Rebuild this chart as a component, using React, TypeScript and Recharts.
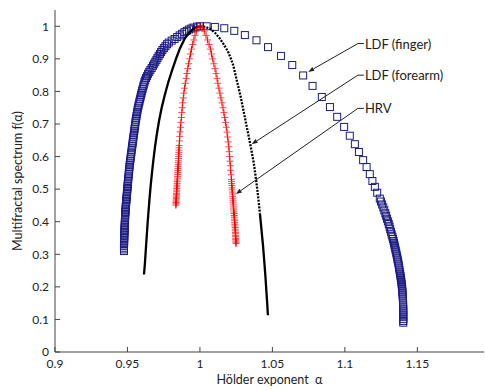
import { ScatterChart, Scatter, XAxis, YAxis, ReferenceLine, Label } from "recharts";

// LDF (finger): left branch bottom -> peak -> right branch bottom
const fingerAlpha = [
  0.9476, 0.9476, 0.9476, 0.9476, 0.9476, 0.9477, 0.9477, 0.9477, 0.9477, 0.9478, 0.9478, 0.9479,
  0.9479, 0.948, 0.948, 0.9481, 0.9481, 0.9482, 0.9482, 0.9483, 0.9483, 0.9484, 0.9484, 0.9485,
  0.9486, 0.9487, 0.9487, 0.9488, 0.9489, 0.949, 0.9491, 0.9492, 0.9493, 0.9494, 0.9495, 0.9496,
  0.9497, 0.9498, 0.9499, 0.95, 0.9501, 0.9502, 0.9503, 0.9504, 0.9505, 0.9506, 0.9508, 0.9509,
  0.9511, 0.9512, 0.9514, 0.9515, 0.9517, 0.9519, 0.9521, 0.9523, 0.9525, 0.9527, 0.9529, 0.9531,
  0.9533, 0.9535, 0.9537, 0.9539, 0.9541, 0.9543, 0.9545, 0.9547, 0.9549, 0.9551, 0.9553, 0.9555,
  0.9557, 0.956, 0.9562, 0.9565, 0.9567, 0.957, 0.9573, 0.9576, 0.9579, 0.9583, 0.9586, 0.959,
  0.9593, 0.9597, 0.9601, 0.9605, 0.9609, 0.9613, 0.9617, 0.9622, 0.9628, 0.9635, 0.9642, 0.965,
  0.9658, 0.9667, 0.9676, 0.9684, 0.9692, 0.97, 0.9707, 0.9715, 0.9724, 0.9732, 0.9741, 0.9751,
  0.9762, 0.9773, 0.9785, 0.9805, 0.9825, 0.9843, 0.986, 0.9877, 0.9893, 0.9909, 0.9925, 0.994,
  0.9955, 0.998, 1.0,
  1.0046, 1.0103, 1.0168, 1.0237, 1.031, 1.039, 1.047, 1.0559, 1.0637, 1.0712, 1.0777, 1.0841,
  1.0897, 1.0947, 1.0995, 1.1034, 1.1069, 1.1097, 1.1126, 1.115, 1.1172, 1.119, 1.1207, 1.1223,
  1.1241, 1.1249, 1.1257, 1.1265, 1.1272, 1.1279, 1.1285, 1.1291, 1.1297, 1.1303, 1.1308, 1.1313,
  1.1318, 1.1323, 1.1328, 1.1332, 1.1336, 1.1339, 1.1342, 1.1345, 1.1348, 1.1351, 1.1354, 1.1357,
  1.136, 1.1363, 1.1365, 1.1368, 1.1371, 1.1373, 1.1375, 1.1377, 1.138, 1.1382, 1.1384, 1.1386,
  1.1388, 1.139, 1.1392, 1.1393, 1.1395, 1.1396, 1.1397, 1.1398, 1.1399, 1.14, 1.1401, 1.1401,
  1.1402, 1.1402, 1.1402, 1.1403, 1.1403, 1.1403, 1.1403, 1.1403, 1.1403, 1.1403, 1.1403,
];
const fingerF = [
  0.31, 0.315, 0.32, 0.325, 0.33, 0.335, 0.34, 0.345, 0.35, 0.355, 0.36, 0.365,
  0.37, 0.375, 0.38, 0.385, 0.39, 0.395, 0.4, 0.405, 0.41, 0.415, 0.42, 0.425,
  0.43, 0.435, 0.44, 0.445, 0.45, 0.455, 0.46, 0.465, 0.47, 0.475, 0.48, 0.485,
  0.49, 0.495, 0.5, 0.505, 0.51, 0.515, 0.52, 0.525, 0.53, 0.536, 0.542, 0.548,
  0.555, 0.561, 0.568, 0.574, 0.581, 0.587, 0.594, 0.6, 0.607, 0.613, 0.62, 0.627,
  0.633, 0.64, 0.646, 0.653, 0.659, 0.666, 0.672, 0.679, 0.685, 0.692, 0.698, 0.705,
  0.711, 0.718, 0.724, 0.731, 0.737, 0.744, 0.75, 0.756, 0.763, 0.769, 0.776, 0.782,
  0.789, 0.795, 0.802, 0.808, 0.815, 0.821, 0.828, 0.834, 0.841, 0.847, 0.854, 0.86,
  0.866, 0.872, 0.879, 0.885, 0.891, 0.897, 0.903, 0.909, 0.915, 0.921, 0.927, 0.933,
  0.939, 0.945, 0.95, 0.956, 0.961, 0.967, 0.972, 0.977, 0.982, 0.986, 0.99, 0.993,
  0.996, 0.999, 1.0,
  1.0, 0.998, 0.994, 0.986, 0.973, 0.957, 0.936, 0.909, 0.881, 0.849, 0.817, 0.783,
  0.752, 0.722, 0.691, 0.664, 0.638, 0.614, 0.589, 0.568, 0.546, 0.525, 0.507, 0.489,
  0.471, 0.462, 0.453, 0.444, 0.435, 0.426, 0.418, 0.409, 0.401, 0.393, 0.385, 0.377,
  0.369, 0.361, 0.354, 0.347, 0.341, 0.335, 0.329, 0.323, 0.317, 0.311, 0.305, 0.299,
  0.293, 0.287, 0.281, 0.275, 0.269, 0.263, 0.257, 0.251, 0.245, 0.239, 0.233, 0.227,
  0.221, 0.215, 0.209, 0.203, 0.197, 0.191, 0.185, 0.179, 0.173, 0.167, 0.161, 0.155,
  0.149, 0.143, 0.137, 0.131, 0.125, 0.119, 0.113, 0.107, 0.101, 0.095, 0.09,
];

// LDF (forearm): left branch and lower right branch look solid, upper right branch dotted
const forearmLeftAlpha = [
  0.9614, 0.962, 0.9626, 0.9632, 0.9638, 0.9645, 0.9652, 0.966, 0.9669, 0.9679, 0.969, 0.9703,
  0.9718, 0.9736, 0.9758, 0.9782, 0.981, 0.9839, 0.9862, 0.9895, 0.9931, 0.9965, 1.0,
];
const forearmLeftF = [
  0.238, 0.27, 0.31, 0.35, 0.39, 0.43, 0.47, 0.51, 0.55, 0.59, 0.63, 0.67,
  0.71, 0.75, 0.79, 0.829, 0.868, 0.905, 0.932, 0.962, 0.983, 0.996, 1.0,
];
const forearmUpperAlpha = [
  1.0, 1.0035, 1.0069, 1.0104, 1.0138, 1.0168, 1.0195, 1.0214, 1.023, 1.0257, 1.0283, 1.0307,
  1.033, 1.0352, 1.0372, 1.0388, 1.0402, 1.0414,
];
const forearmUpperF = [
  1.0, 0.998, 0.993, 0.98, 0.962, 0.942, 0.921, 0.9, 0.88, 0.829, 0.78, 0.727,
  0.676, 0.627, 0.579, 0.527, 0.476, 0.425,
];
const forearmLowerAlpha = [1.0414, 1.0425, 1.0436, 1.0445, 1.0452, 1.0458, 1.0464, 1.0469];
const forearmLowerF = [0.425, 0.374, 0.323, 0.272, 0.231, 0.19, 0.151, 0.113];

// HRV
const hrvAlpha = [
  0.9834, 0.9835, 0.9835, 0.9836, 0.9836, 0.9837, 0.9837, 0.9838, 0.9838, 0.9839, 0.9839, 0.984,
  0.984, 0.9841, 0.9842, 0.9843, 0.9843, 0.9844, 0.9845, 0.9846, 0.9846, 0.9847, 0.9848, 0.9849,
  0.9849, 0.985, 0.9851, 0.9852, 0.9852, 0.9853, 0.9854, 0.9855, 0.9855, 0.9856, 0.9857, 0.9859,
  0.9861, 0.9863, 0.9866, 0.9869, 0.9872, 0.9875, 0.9878, 0.9881, 0.9885, 0.9889, 0.9894, 0.9899,
  0.9905, 0.991, 0.9916, 0.9922, 0.9929, 0.9935, 0.9942, 0.995, 0.9958, 0.9966, 0.9975, 0.9985, 1.0,
  1.0015, 1.003, 1.0042, 1.0053, 1.0063, 1.0072, 1.008, 1.0088, 1.0096, 1.0104, 1.0111, 1.0118,
  1.0124, 1.0131, 1.0138, 1.0145, 1.0152, 1.0159, 1.0165, 1.0171, 1.0177, 1.0182, 1.0187, 1.0191,
  1.0195, 1.0199, 1.0202, 1.0205, 1.0207, 1.021, 1.0212, 1.0215, 1.0217, 1.0218, 1.0219, 1.022,
  1.0221, 1.0222, 1.0223, 1.0225, 1.0226, 1.0227, 1.0228, 1.0229, 1.023, 1.0231, 1.0232, 1.0233,
  1.0234, 1.0235, 1.0236, 1.0237, 1.0238, 1.0239, 1.024, 1.0241, 1.0242, 1.0243, 1.0244, 1.0244,
  1.0245, 1.0245, 1.0246, 1.0246, 1.0247, 1.0247, 1.0248, 1.0248, 1.0249,
];
const hrvF = [
  0.451, 0.455, 0.459, 0.463, 0.467, 0.471, 0.475, 0.479, 0.483, 0.487, 0.492, 0.497,
  0.502, 0.507, 0.512, 0.517, 0.523, 0.528, 0.534, 0.539, 0.545, 0.551, 0.557, 0.563,
  0.569, 0.575, 0.581, 0.587, 0.594, 0.6, 0.607, 0.613, 0.62, 0.627, 0.634, 0.648,
  0.662, 0.676, 0.69, 0.705, 0.72, 0.735, 0.75, 0.765, 0.78, 0.795, 0.81, 0.825,
  0.84, 0.855, 0.87, 0.885, 0.9, 0.915, 0.93, 0.944, 0.958, 0.972, 0.985, 0.995, 1.0,
  0.995, 0.985, 0.972, 0.958, 0.944, 0.93, 0.915, 0.9, 0.885, 0.87, 0.855, 0.84,
  0.825, 0.81, 0.795, 0.78, 0.765, 0.75, 0.735, 0.72, 0.705, 0.69, 0.675, 0.66,
  0.645, 0.63, 0.615, 0.6, 0.586, 0.572, 0.558, 0.544, 0.53, 0.524, 0.517, 0.511,
  0.504, 0.498, 0.491, 0.485, 0.478, 0.472, 0.466, 0.46, 0.454, 0.448, 0.442, 0.436,
  0.43, 0.425, 0.419, 0.414, 0.408, 0.403, 0.397, 0.392, 0.387, 0.382, 0.377, 0.372,
  0.367, 0.363, 0.358, 0.354, 0.349, 0.345, 0.341, 0.337, 0.333,
];

// annotations: label anchor and arrow tip
const noteText = ["LDF (finger)", "LDF (forearm)", "HRV"];
const noteAlpha = [1.109, 1.109, 1.109];
const noteF = [0.947, 0.85, 0.748];
const tipAlpha = [1.0747, 1.0357, 1.0248];
const tipF = [0.86, 0.638, 0.485];

const xTicks = [0.9, 0.95, 1, 1.05, 1.1, 1.15];
const yTicks = [0, 0.1, 0.2, 0.3, 0.4, 0.5, 0.6, 0.7, 0.8, 0.9, 1];

const zip = (a: number[], f: number[]) => a.map((x, i) => ({ alpha: x, f: f[i] }));

const finger = zip(fingerAlpha, fingerF);
const forearmLeft = zip(forearmLeftAlpha, forearmLeftF);
const forearmUpper = zip(forearmUpperAlpha, forearmUpperF);
const forearmLower = zip(forearmLowerAlpha, forearmLowerF);
const hrv = zip(hrvAlpha, hrvF);

const Square = (p: any) => (
  <rect x={p.cx - 3.5} y={p.cy - 3.5} width={7} height={7} fill="none" stroke="#1c1c85" strokeWidth={1} />
);

const Plus = (p: any) => (
  <g stroke="#ff0000">
    <line x1={p.cx - 3.5} y1={p.cy} x2={p.cx + 3.5} y2={p.cy} strokeWidth={0.7} />
    <line x1={p.cx} y1={p.cy - 3.5} x2={p.cx} y2={p.cy + 3.5} strokeWidth={1} />
  </g>
);

const NoDot = () => <g />;

const arrowShape = (text: string) => (p: any) => {
  const { x1, y1, x2, y2 } = p;
  const ang = Math.atan2(y2 - y1, x2 - x1);
  const bx = x2 - 6 * Math.cos(ang);
  const by = y2 - 6 * Math.sin(ang);
  const px = -Math.sin(ang) * 2.2;
  const py = Math.cos(ang) * 2.2;
  return (
    <g>
      <line x1={x1} y1={y1} x2={bx} y2={by} stroke="#222" strokeWidth={1} />
      <line x1={x1} y1={y1} x2={x1 + 6} y2={y1} stroke="#222" strokeWidth={1} />
      <polygon points={`${x2},${y2} ${bx + px},${by + py} ${bx - px},${by - py}`} fill="#222" />
      <text x={x1 + 7} y={y1} dominantBaseline="central" fontSize={13} fill="#222">
        {text}
      </text>
    </g>
  );
};

export default function App() {
  const tickStyle = { fill: "#222", fontSize: 12 };
  return (
    <div style={{ position: "absolute", left: 0, top: 0, fontFamily: "Lato, sans-serif" }}>
      <ScatterChart width={485} height={390} margin={{ top: 10, right: 1, bottom: 0, left: 0 }}>
        <XAxis
          type="number"
          dataKey="alpha"
          domain={[0.9, 1.196]}
          ticks={xTicks}
          allowDataOverflow
          height={38}
          tickSize={-5}
          tickMargin={12}
          tick={tickStyle}
          stroke="#444"
          tickFormatter={(v) => String(v)}
        >
          <Label value={"Hölder exponent\u00a0\u00a0α"} position="insideBottom" offset={6} fill="#222" fontSize={12.5} />
        </XAxis>
        <XAxis
          xAxisId="top"
          orientation="top"
          type="number"
          dataKey="alpha"
          domain={[0.9, 1.196]}
          ticks={xTicks}
          allowDataOverflow
          height={0}
          tickSize={-5}
          tick={false}
          stroke="#444"
        />
        <YAxis
          type="number"
          dataKey="f"
          domain={[0, 1.05]}
          ticks={yTicks}
          allowDataOverflow
          width={55}
          tickSize={-5}
          tickMargin={11}
          tick={tickStyle}
          stroke="#444"
          tickFormatter={(v) => String(v)}
        >
          <Label
            value="Multifractal spectrum f(α)"
            angle={-90}
            position="insideLeft"
            offset={18}
            fill="#222"
            fontSize={12.5}
            style={{ textAnchor: "middle" }}
          />
        </YAxis>
        <YAxis
          yAxisId="right"
          orientation="right"
          type="number"
          dataKey="f"
          domain={[0, 1.05]}
          ticks={yTicks}
          allowDataOverflow
          width={0}
          tickSize={-5}
          tick={false}
          stroke="#444"
        />
        <Scatter data={finger} shape={Square} isAnimationActive={false} />
        <Scatter
          data={forearmLeft}
          shape={NoDot}
          line={{ stroke: "#000", strokeWidth: 2.3 }}
          lineType="joint"
          isAnimationActive={false}
        />
        <Scatter
          data={forearmUpper}
          shape={NoDot}
          line={{ stroke: "#000", strokeWidth: 2.3, strokeDasharray: "2 1.3" }}
          lineType="joint"
          isAnimationActive={false}
        />
        <Scatter
          data={forearmLower}
          shape={NoDot}
          line={{ stroke: "#000", strokeWidth: 2.3 }}
          lineType="joint"
          isAnimationActive={false}
        />
        <Scatter data={hrv} shape={Plus} isAnimationActive={false} />
        {noteText.map((t, i) => (
          <ReferenceLine
            key={t}
            segment={[
              { x: noteAlpha[i], y: noteF[i] },
              { x: tipAlpha[i], y: tipF[i] },
            ]}
            ifOverflow="visible"
            shape={arrowShape(t)}
          />
        ))}
      </ScatterChart>
    </div>
  );
}
